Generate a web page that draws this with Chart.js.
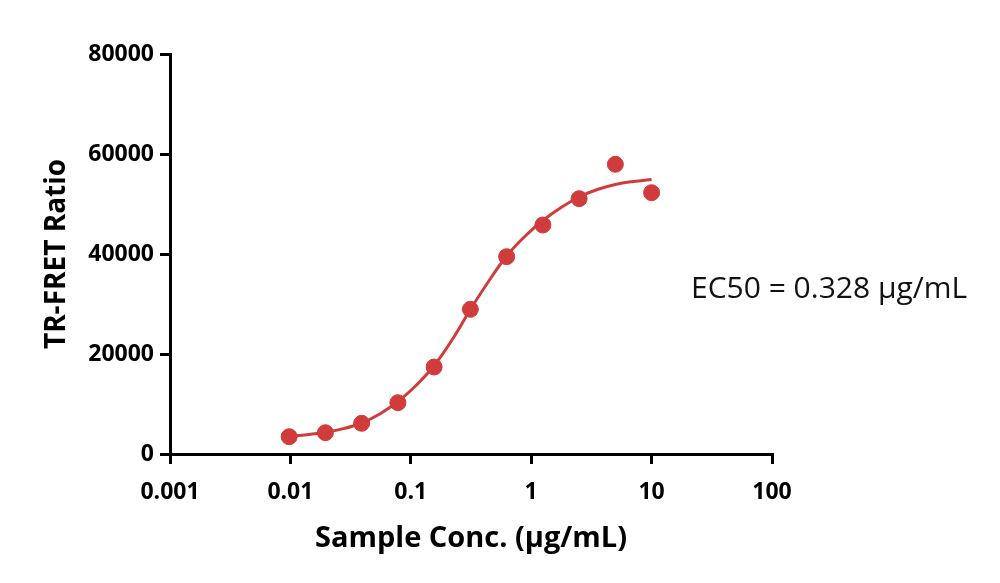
<!DOCTYPE html>
<html>
<head>
<meta charset="utf-8">
<script src="https://cdn.jsdelivr.net/npm/chart.js@4.4.0/dist/chart.umd.min.js"></script>
<style>
  html, body { margin: 0; padding: 0; background: #fff; }
  #wrap { width: 1000px; height: 583px; }
</style>
</head>
<body>
<div id="wrap"><canvas id="myChart" width="1000" height="583"></canvas></div>
<script>
// measured points
var concs = [0.009766, 0.01953, 0.03906, 0.07813, 0.15625, 0.3125, 0.625, 1.25, 2.5, 5, 10];
var ratios = [3460, 4260, 6140, 10260, 17400, 28940, 39460, 45800, 51060, 57940, 52260];

// fitted curve
var fitConcs = [0.009766, 0.0138, 0.01953, 0.0276, 0.03906, 0.0552, 0.07813, 0.1105, 0.15625, 0.221,
  0.3125, 0.442, 0.625, 0.884, 1.25, 1.77, 2.5, 3.54, 5, 7.07, 10];
var fitRatios = [3500, 3870, 4350, 5070, 6200, 8000, 10500, 13700, 17700, 22900,
  28900, 34500, 39600, 43500, 46700, 49300, 51400, 52900, 53900, 54500, 54900];

var xTicks = [0.001, 0.01, 0.1, 1, 10, 100];
var xTickLabels = ['0.001', '0.01', '0.1', '1', '10', '100'];
var yTicks = [0, 20000, 40000, 60000, 80000];

var red = '#d03c3c';

var ec50Label = {
  id: 'ec50Label',
  afterDraw: function(chart) {
    var c = chart.ctx;
    c.save();
    c.font = '30px "Open Sans"';
    c.fillStyle = '#111';
    c.textBaseline = 'middle';
    c.fillText('EC50 = 0.328 \u00b5g/mL', 691, 289);
    c.restore();
  }
};

var ctx = document.getElementById('myChart').getContext('2d');
var myChart = new Chart(ctx, {
  type: 'scatter',
  data: {
    datasets: [{
      data: concs.map(function(c, i) { return {x: c, y: ratios[i]}; }),
      backgroundColor: red,
      borderColor: red,
      pointRadius: 8,
      pointHoverRadius: 8,
      showLine: false,
      order: 1
    }, {
      data: fitConcs.map(function(c, i) { return {x: c, y: fitRatios[i]}; }),
      borderColor: red,
      borderWidth: 3,
      pointRadius: 0,
      showLine: true,
      tension: 0.4,
      order: 2
    }]
  },
  plugins: [ec50Label],
  options: {
    responsive: false,
    animation: false,
    layout: { padding: { left: 0, top: 54, right: 228, bottom: 0 } },
    plugins: { legend: { display: false }, tooltip: { enabled: false } },
    scales: {
      x: {
        type: 'logarithmic',
        min: 0.001,
        max: 100,
        afterBuildTicks: function(scale) {
          scale.ticks = xTicks.map(function(v) { return {value: v}; });
        },
        afterFit: function(scale) { scale.height = 129; },
        border: { color: '#000', width: 3 },
        grid: { drawOnChartArea: false, color: '#000', lineWidth: 3, tickLength: 10 },
        ticks: {
          color: '#000',
          padding: 15,
          maxRotation: 0,
          autoSkip: false,
          font: { family: 'Open Sans', size: 23, weight: 'bold' },
          callback: function(v) {
            var i = xTicks.indexOf(v);
            return i >= 0 ? xTickLabels[i] : '';
          }
        },
        title: {
          display: true,
          text: 'Sample Conc. (\u00b5g/mL)',
          color: '#000',
          font: { family: 'Open Sans', size: 29, weight: 'bold' },
          padding: { top: 0, bottom: 27 }
        }
      },
      y: {
        min: 0,
        max: 80000,
        afterBuildTicks: function(scale) {
          scale.ticks = yTicks.map(function(v) { return {value: v}; });
        },
        afterFit: function(scale) { scale.width = 170; },
        border: { color: '#000', width: 3 },
        grid: { drawOnChartArea: false, color: '#000', lineWidth: 3, tickLength: 10 },
        ticks: {
          color: '#000',
          padding: 6,
          font: { family: 'Open Sans', size: 23, weight: 'bold' },
          callback: function(v) { return String(v); }
        },
        title: {
          display: true,
          text: 'TR-FRET Ratio',
          color: '#000',
          font: { family: 'Open Sans', size: 28, weight: 'bold' },
          padding: { top: 40, bottom: 0 }
        }
      }
    }
  }
});
</script>
</body>
</html>
